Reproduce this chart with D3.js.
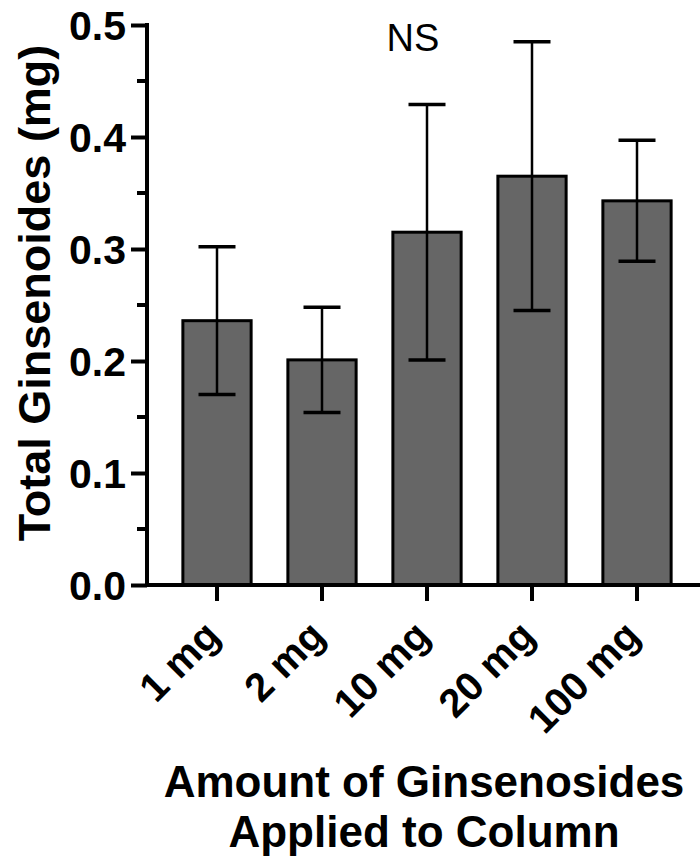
<!DOCTYPE html>
<html>
<head>
<meta charset="utf-8">
<script src="https://cdn.jsdelivr.net/npm/d3@7"></script>
<style>
  html, body { margin: 0; padding: 0; background: #ffffff; }
  svg { display: block; font-family: Arial, "Liberation Sans", Helvetica, sans-serif; }
</style>
</head>
<body>
<div id="chart"></div>
<script>
// Chart data
const categories = ['1 mg', '2 mg', '10 mg', '20 mg', '100 mg'];
const means = [0.236, 0.201, 0.315, 0.365, 0.343];
const errors = [0.066, 0.047, 0.114, 0.120, 0.054];
const yTicks = [0.0, 0.1, 0.2, 0.3, 0.4, 0.5];
const yMinorTicks = [0.05, 0.15, 0.25, 0.35, 0.45];
const annotation = { category: '10 mg', text: 'NS' };

const WIDTH = 700, HEIGHT = 859;
const AXIS_X = 147;

const svg = d3.select('#chart')
    .append('svg')
    .attr('width', WIDTH)
    .attr('height', HEIGHT);

// Scales
const x = d3.scaleBand()
    .domain(categories)
    .range([164.5, 689.5])
    .paddingInner(0.35)
    .paddingOuter(0.175);

const y = d3.scaleLinear()
    .domain([0, 0.5])
    .range([585, 25]);

const cx = d => x(d) + x.bandwidth() / 2;
const data = categories.map((c, i) => ({ name: c, mean: means[i], err: errors[i] }));

// Bars
svg.append('g')
    .selectAll('rect')
    .data(data)
    .join('rect')
    .attr('x', d => x(d.name))
    .attr('y', d => y(d.mean))
    .attr('width', x.bandwidth())
    .attr('height', d => y(0) - y(d.mean))
    .attr('fill', '#666666')
    .attr('stroke', '#000')
    .attr('stroke-width', 3);

// Error bars
const capW = 37;
const eb = svg.append('g').selectAll('g').data(data).join('g');
eb.append('line')
    .attr('x1', d => cx(d.name))
    .attr('x2', d => cx(d.name))
    .attr('y1', d => y(d.mean - d.err))
    .attr('y2', d => y(d.mean + d.err))
    .attr('stroke', '#000')
    .attr('stroke-width', 2.5);
[-1, 1].forEach(s => {
    eb.append('line')
        .attr('x1', d => cx(d.name) - capW / 2)
        .attr('x2', d => cx(d.name) + capW / 2)
        .attr('y1', d => y(d.mean + s * d.err))
        .attr('y2', d => y(d.mean + s * d.err))
        .attr('stroke', '#000')
        .attr('stroke-width', 3.5);
});

// Y axis
const yAxis = svg.append('g')
    .attr('transform', `translate(${AXIS_X},0)`)
    .call(d3.axisLeft(y).tickValues(yTicks).tickFormat(d3.format('.1f')).tickSize(16).tickPadding(5));
yAxis.select('.domain').attr('d', `M0,${y(0.5) - 2}V${y(0)}`).attr('stroke-width', 4);
yAxis.selectAll('.tick line').attr('stroke-width', 4);
yAxis.selectAll('.tick text')
    .attr('font-size', 41)
    .attr('font-weight', 'bold')
    .attr('fill', '#000')
    .attr('dy', '0.36em')
    .attr('font-family', 'Arial, "Liberation Sans", Helvetica, sans-serif');

svg.append('g')
    .selectAll('line')
    .data(yMinorTicks)
    .join('line')
    .attr('x1', AXIS_X - 10)
    .attr('x2', AXIS_X)
    .attr('y1', d => y(d))
    .attr('y2', d => y(d))
    .attr('stroke', '#000')
    .attr('stroke-width', 4);

// X axis
const xAxis = svg.append('g')
    .attr('transform', `translate(0,${y(0)})`)
    .call(d3.axisBottom(x).tickSize(16).tickFormat(''));
xAxis.select('.domain').attr('d', `M${AXIS_X - 2},0H700`).attr('stroke-width', 4);
xAxis.selectAll('.tick line').attr('stroke-width', 4);

// Rotated category labels
svg.append('g')
    .selectAll('text')
    .data(categories)
    .join('text')
    .attr('transform', d => `translate(${cx(d) + 5},638) rotate(-45)`)
    .attr('text-anchor', 'end')
    .attr('font-size', 40)
    .attr('font-weight', 'bold')
    .text(d => d);

// Axis titles
svg.append('text')
    .attr('transform', 'translate(50,293) rotate(-90)')
    .attr('text-anchor', 'middle')
    .attr('font-size', 45)
    .attr('font-weight', 'bold')
    .text('Total Ginsenoides (mg)');

const xTitle = svg.append('text')
    .attr('text-anchor', 'middle')
    .attr('font-size', 44)
    .attr('font-weight', 'bold');
xTitle.append('tspan').attr('x', 424).attr('y', 797).text('Amount of Ginsenosides');
xTitle.append('tspan').attr('x', 424).attr('y', 847).text('Applied to Column');

// Annotation
svg.append('text')
    .attr('x', cx(annotation.category) - 14)
    .attr('y', 51)
    .attr('text-anchor', 'middle')
    .attr('font-size', 38)
    .text(annotation.text);
</script>
</body>
</html>
